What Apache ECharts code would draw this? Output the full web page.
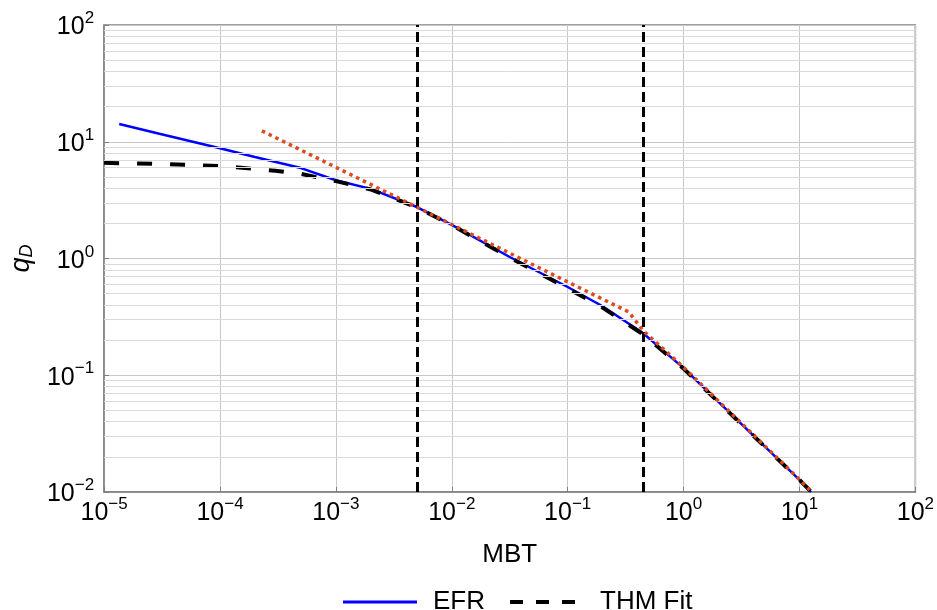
<!DOCTYPE html>
<html>
<head>
<meta charset="utf-8">
<script src="https://cdn.jsdelivr.net/npm/echarts@6/dist/echarts.min.js"></script>
<style>
  html, body { margin: 0; padding: 0; background: #fff; }
  #chart { width: 937px; height: 610px; }
</style>
</head>
<body>
<div id="chart"></div>
<script>
// 数据
const efrX = [1.35e-5, 3e-5, 1e-4, 2e-4, 5e-4, 1e-3, 2e-3, 5e-3, 1e-2, 3.16e-2, 0.1, 0.2, 0.445, 1, 3.16, 10, 12.6];
const efrY = [14.2, 11.7, 8.8, 7.4, 5.95, 4.68, 3.95, 2.76, 1.94, 1.03, 0.57, 0.39, 0.23, 0.115, 0.0382, 0.0127, 0.01];

const thmX = [1e-5, 3e-5, 1e-4, 3e-4, 5e-4, 1e-3, 2e-3, 5e-3, 1e-2, 3.16e-2, 0.1, 0.2, 0.445, 1, 3.16, 10, 12.4];
const thmY = [6.6, 6.45, 6.2, 5.65, 5.3, 4.6, 3.9, 2.74, 1.93, 1.02, 0.555, 0.38, 0.225, 0.114, 0.038, 0.0127, 0.0102];

const fitX = [2.3e-4, 5e-3, 0.1, 0.337, 0.45, 1, 10, 12.3];
const fitY = [12.4, 2.75, 0.63, 0.348, 0.24, 0.117, 0.0128, 0.0104];

// 两条竖直虚线位置
const regimeX = [0.005, 0.445];

// 坐标轴范围
const xMin = 1e-5, xMax = 1e2;
const yMin = 1e-2, yMax = 1e2;

const FONT = 'Liberation Sans, Arial, sans-serif';

// y 轴次网格线 2..9 × 10^k
const minorY = [];
for (let k = -2; k < 2; k++) {
    for (let m = 2; m <= 9; m++) minorY.push(m * Math.pow(10, k));
}

function zip(xs, ys) {
    return xs.map((x, i) => [x, ys[i]]);
}

function powLabel(v) {
    const e = Math.round(Math.log10(v));
    return '{b|10}{s|' + String(e).replace('-', '\u2212') + '}';
}

const labelRich = {
    b: { fontSize: 25, fontFamily: FONT, color: '#000', lineHeight: 30, verticalAlign: 'bottom' },
    s: { fontSize: 17, fontFamily: FONT, color: '#000', lineHeight: 17, verticalAlign: 'top', padding: [0, 0, 0, 0] }
};

const chart = echarts.init(document.getElementById('chart'));

chart.setOption({
    animation: false,
    backgroundColor: '#fff',
    grid: {
        left: 103, right: 19, top: 25, bottom: 118,
        show: true, borderColor: '#808080', borderWidth: 1.5,
        containLabel: false
    },
    xAxis: {
        type: 'log', logBase: 10, min: xMin, max: xMax,
        name: 'MBT', nameLocation: 'middle', nameGap: 50,
        nameTextStyle: { fontSize: 26, fontFamily: FONT, color: '#000' },
        axisLine: { show: true, lineStyle: { color: '#808080', width: 1.5 } },
        axisTick: { show: true, inside: true, length: 5, lineStyle: { color: '#808080' } },
        axisLabel: { formatter: powLabel, rich: labelRich, margin: 4, color: '#000' },
        splitLine: { show: true, lineStyle: { color: '#c8c8c8', width: 1 } }
    },
    yAxis: {
        type: 'log', logBase: 10, min: yMin, max: yMax,
        name: '{q|q}{d|D}', nameLocation: 'middle', nameGap: 64,
        nameTextStyle: {
            rich: {
                q: { fontSize: 27, fontStyle: 'italic', fontFamily: FONT, color: '#000', lineHeight: 28, verticalAlign: 'top' },
                d: { fontSize: 18, fontStyle: 'italic', fontFamily: FONT, color: '#000', lineHeight: 28, verticalAlign: 'bottom' }
            }
        },
        axisLine: { show: true, lineStyle: { color: '#808080', width: 1.5 } },
        axisTick: { show: true, inside: true, length: 5, lineStyle: { color: '#808080' } },
        axisLabel: { formatter: powLabel, rich: labelRich, margin: 10, color: '#000' },
        splitLine: { show: true, lineStyle: { color: '#c8c8c8', width: 1 } }
    },
    legend: [
        {
            left: 338, top: 584,
            itemWidth: 74, itemHeight: 3, icon: 'rect',
            textStyle: { fontSize: 26, fontFamily: FONT, color: '#000', padding: [0, 0, 0, 11] },
            data: ['EFR']
        },
        {
            left: 505, top: 584,
            itemWidth: 65, itemHeight: 4,
            icon: 'path://M0,0h13v4h-13z M26,0h13v4h-13z M52,0h13v4h-13z',
            textStyle: { fontSize: 26, fontFamily: FONT, color: '#000', padding: [0, 0, 0, 20] },
            data: ['THM Fit']
        }
    ],
    series: [
        {
            // 次网格线
            type: 'line', name: 'minor', data: [], silent: true, z: 1,
            markLine: {
                silent: true, symbol: 'none', animation: false, precision: 10,
                label: { show: false },
                lineStyle: { color: '#d9d9d9', width: 1, type: 'solid' },
                data: minorY.map(v => ({ yAxis: v }))
            }
        },
        {
            name: 'EFR', type: 'line', data: zip(efrX, efrY),
            showSymbol: false, symbol: 'none', z: 3,
            lineStyle: { color: '#0000ff', width: 2.5 },
            itemStyle: { color: '#0000ff' }
        },
        {
            name: 'THM Fit', type: 'line', data: zip(thmX, thmY),
            showSymbol: false, symbol: 'none', z: 4,
            lineStyle: { color: '#000', width: 4, type: [15, 18] },
            itemStyle: { color: '#000' }
        },
        {
            name: 'Asymptote', type: 'line', data: zip(fitX, fitY),
            showSymbol: false, symbol: 'none', z: 5,
            lineStyle: { color: '#dd4a1e', width: 3.5, type: [3.5, 4] },
            itemStyle: { color: '#dd4a1e' }
        },
        {
            // 竖直分界线
            type: 'line', name: 'regimes', data: [], silent: true, z: 6,
            markLine: {
                silent: true, symbol: 'none', animation: false, precision: 10,
                label: { show: false },
                lineStyle: { color: '#000', width: 3, type: [10, 5] },
                data: regimeX.map(v => ({ xAxis: v }))
            }
        }
    ]
});
</script>
</body>
</html>
